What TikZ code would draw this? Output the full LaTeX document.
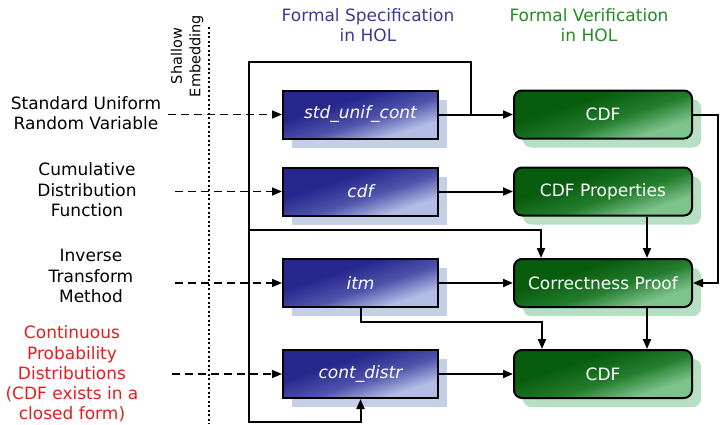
\documentclass[tikz,border=0pt]{standalone}
\usepackage{fontspec}
\setmainfont{DejaVu Sans}
\usetikzlibrary{arrows.meta,shadows,calc}
\definecolor{bdark}{RGB}{38,38,140}
\definecolor{bmid}{RGB}{80,84,172}
\definecolor{blight}{RGB}{178,188,228}
\definecolor{bshadow}{RGB}{196,208,230}
\definecolor{gdark}{RGB}{8,92,14}
\definecolor{gmid}{RGB}{35,125,45}
\definecolor{glight}{RGB}{125,195,140}
\definecolor{gshadow}{RGB}{183,223,196}
\definecolor{hblue}{RGB}{58,58,150}
\definecolor{hgreen}{RGB}{35,140,35}
\definecolor{lred}{RGB}{225,30,30}
\pgfdeclareverticalshading{bshade}{100bp}{color(0bp)=(blight); color(30bp)=(blight); color(45bp)=(bmid); color(62bp)=(bdark); color(100bp)=(bdark)}
\pgfdeclareverticalshading{gshade}{100bp}{color(0bp)=(glight); color(30bp)=(glight); color(45bp)=(gmid); color(62bp)=(gdark); color(100bp)=(gdark)}
\begin{document}
\begin{tikzpicture}[x=1pt,y=-1pt,
  font=\fontsize{17}{20.5}\selectfont,
  spec/.style={draw=black, line width=2pt, minimum width=155pt, minimum height=48pt,
    inner sep=0pt, shade, shading=bshade, shading angle=18,
    text=white, font=\fontsize{17}{20}\selectfont\itshape,
    general shadow={fill=bshadow, draw=none, shadow xshift=9pt, shadow yshift=-9pt}},
  verif/.style={draw=black, line width=2pt, minimum width=178pt, minimum height=48pt,
    inner sep=0pt, rounded corners=8pt, shade, shading=gshade, shading angle=18,
    text=white,
    general shadow={fill=gshadow, draw=none, shadow xshift=9pt, shadow yshift=-9pt}},
  lab/.style={align=center, inner sep=0pt},
  conn/.style={line width=2pt, draw=black},
  arr/.style={conn, -{Triangle[length=10pt,width=8pt]}},
  darr/.style={line width=1.6pt, dash pattern=on 8pt off 5pt, -{Triangle[length=10pt,width=8pt]}},
]
\useasboundingbox (0,0) rectangle (720,424);

% headers
\node[lab, text=hblue] (hspec) at (368,25) {Formal Specification\\in HOL};
\node[lab, text=hgreen] (hver) at (589,25) {Formal Verification\\in HOL};

% shallow embedding
\node[lab, rotate=90, font=\fontsize{14.5}{18.5}\selectfont] (shal) at (187,56) {Shallow\\Embedding};
\coordinate (dtop) at (209,27);
\coordinate (dbot) at (209,424);
\draw[line width=1.5pt, dash pattern=on 2pt off 2.5pt] (dtop) -- (dbot);

% left labels
\node[lab] (l1) at (86,113) {Standard Uniform\\Random Variable};
\node[lab] (l2) at (87,190) {Cumulative\\Distribution\\Function};
\node[lab] (l3) at (91,276) {Inverse\\Transform\\Method};
\node[lab, text=lred, font=\fontsize{17}{20.3}\selectfont] (l4) at (72,374) {Continuous\\Probability\\Distributions\\(CDF exists in a\\closed form)};

% boxes
\node[spec] (std) at (360.5,114.5) {std\_unif\_cont};
\node[spec] (cdf) at (360.5,191.5) {cdf};
\node[spec] (itm) at (360.5,283) {itm};
\node[spec] (cont) at (360.5,374) {cont\_distr};

\node[verif] (cdfA) at (603,114.5) {CDF};
\node[verif] (props) at (603,191.5) {CDF Properties};
\node[verif] (proof) at (603,283) {Correctness Proof};
\node[verif] (cdfB) at (603,374) {CDF};

% dashed inputs
\coordinate (s1) at (168,114.5);
\coordinate (s2) at (175,191.5);
\coordinate (s3) at (175,283);
\coordinate (s4) at (172,374);
\draw[darr] (s1) -- (std.west);
\draw[darr] (s2) -- (cdf.west);
\draw[darr] (s3) -- (itm.west);
\draw[darr] (s4) -- (cont.west);

% connectors
\coordinate (j1) at (471,114.5);
\coordinate (tl) at (249,62);
\coordinate (bl) at (249,422);
\coordinate (b1) at (249,230);
\coordinate (pa) at (541,0);
\coordinate (k) at (542,322);
\coordinate (c647) at (647,0);
\coordinate (r) at (718,114.5);

\draw[arr] (std.east) -- (cdfA.west);
\draw[arr] (j1) |- (tl) -- (bl) -| (cont.south);
\draw[arr] (b1) -| (proof.north -| pa);
\draw[arr] (itm.south) |- (k) -- (k |- cdfB.north);
\draw[arr] (cdf.east) -- (props.west);
\draw[arr] (itm.east) -- (proof.west);
\draw[arr] (cont.east) -- (cdfB.west);
\draw[arr] (props.south -| c647) -- (proof.north -| c647);
\draw[arr] (proof.south -| c647) -- (cdfB.north -| c647);
\draw[arr] (cdfA.east) -- (r) |- (proof.east);
\end{tikzpicture}
\end{document}
